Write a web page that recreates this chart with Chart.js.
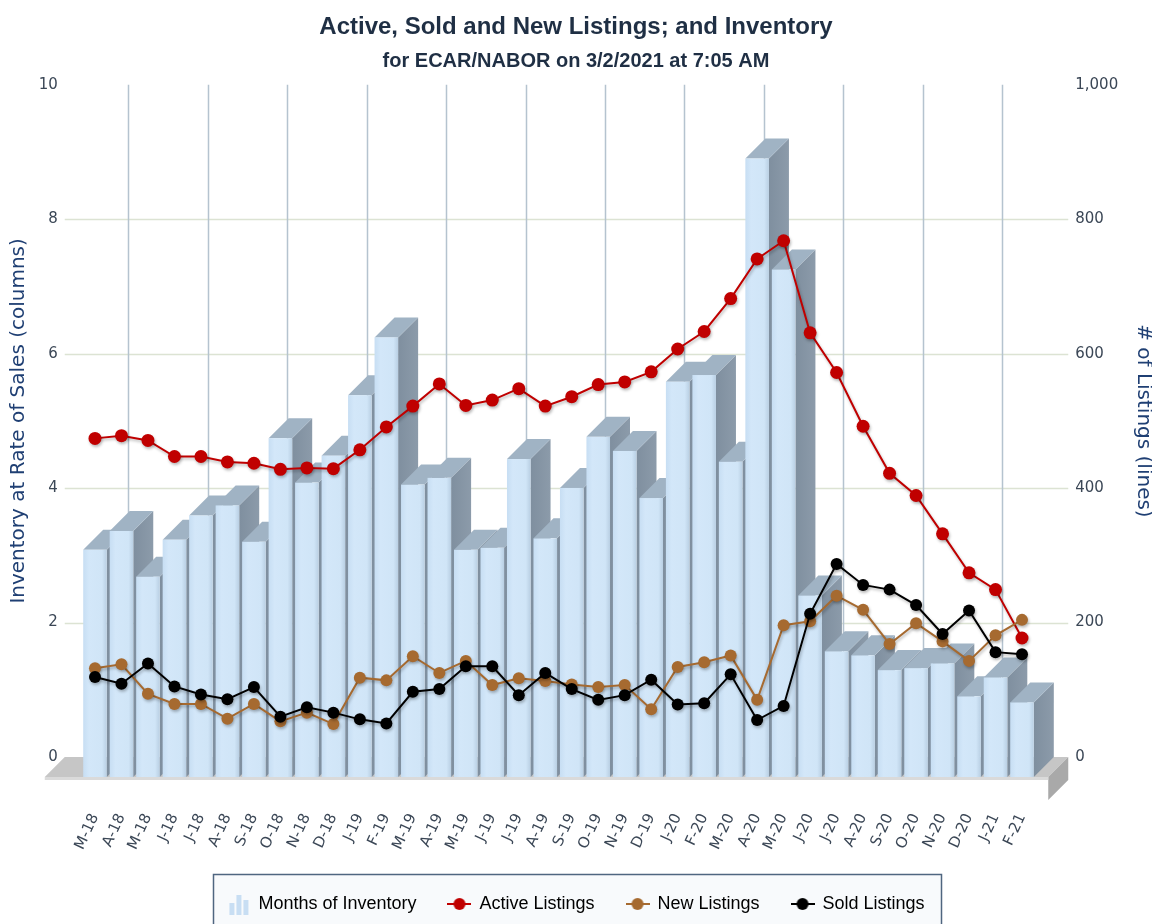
<!DOCTYPE html>
<html>
<head>
<meta charset="utf-8">
<script src="https://cdn.jsdelivr.net/npm/chart.js@4.4.1/dist/chart.umd.min.js"></script>
<style>
  html, body { margin: 0; padding: 0; background: #fff; }
  #wrap { width: 1152px; height: 924px; }
</style>
</head>
<body>
<div id="wrap"><canvas id="chart" width="1152" height="924"></canvas></div>
<script>
// months, Mar 2018 .. Feb 2021
const labels = ['M-18','A-18','M-18','J-18','J-18','A-18','S-18','O-18','N-18','D-18',
  'J-19','F-19','M-19','A-19','M-19','J-19','J-19','A-19','S-19','O-19','N-19','D-19',
  'J-20','F-20','M-20','A-20','M-20','J-20','J-20','A-20','S-20','O-20','N-20','D-20',
  'J-21','F-21'];

// columns, left axis
const monthsOfInventory = [3.38, 3.66, 2.98, 3.53, 3.89, 4.04, 3.50, 5.04, 4.38, 4.78,
  5.68, 6.54, 4.35, 4.45, 3.38, 3.41, 4.73, 3.55, 4.30, 5.06, 4.85, 4.15,
  5.88, 5.98, 4.69, 9.20, 7.55, 2.70, 1.87, 1.81, 1.59, 1.62, 1.69, 1.20,
  1.48, 1.11];

// lines, right axis
const activeListings = [474, 478, 471, 447, 447, 439, 437, 428, 430, 429,
  457, 491, 522, 555, 523, 531, 548, 522, 536, 554, 558, 573,
  607, 633, 682, 741, 768, 631, 572, 492, 422, 389, 332, 274,
  249, 177];
const newListings = [132, 138, 94, 79, 79, 57, 79, 53, 66, 49,
  118, 114, 150, 125, 143, 107, 117, 113, 108, 104, 107, 71,
  134, 141, 151, 85, 196, 202, 240, 219, 168, 199, 172, 143,
  181, 204];
const soldListings = [119, 109, 139, 105, 93, 86, 104, 60, 74, 66,
  56, 50, 97, 101, 135, 135, 92, 125, 101, 85, 92, 115,
  78, 80, 123, 55, 76, 213, 287, 256, 249, 226, 183, 218,
  156, 153];

const leftTicks = [0, 2, 4, 6, 8, 10];
const rightTicks = [0, 200, 400, 600, 800, 1000];

const DEPTH = 20;
const tickFont = { family: 'DejaVu Sans', size: 15 };
const tickColor = '#3b4756';
const axisTitleColor = '#1f3f73';

// little pictures for the legend
function barIcon() {
  const c = document.createElement('canvas');
  c.width = 22; c.height = 22;
  const g = c.getContext('2d');
  g.fillStyle = '#c8def3';
  g.fillRect(2, 10, 5, 12);
  g.fillRect(9, 2, 5, 20);
  g.fillRect(16, 7, 5, 15);
  return c;
}
function lineIcon(color) {
  const c = document.createElement('canvas');
  c.width = 24; c.height = 14;
  const g = c.getContext('2d');
  g.strokeStyle = color; g.lineWidth = 2;
  g.beginPath(); g.moveTo(0, 7); g.lineTo(24, 7); g.stroke();
  g.fillStyle = color;
  g.beginPath(); g.arc(12, 7, 6, 0, Math.PI * 2); g.fill();
  return c;
}

function poly(ctx, pts, fill) {
  ctx.beginPath();
  ctx.moveTo(pts[0][0], pts[0][1]);
  for (let i = 1; i < pts.length; i++) ctx.lineTo(pts[i][0], pts[i][1]);
  ctx.closePath();
  ctx.fillStyle = fill;
  ctx.fill();
}

// floor, back wall grid and the 3d columns
const threeD = {
  id: 'threeD',
  beforeDatasetsDraw(chart) {
    const { ctx, chartArea: a, scales } = chart;
    const x = scales.x, y = scales.y;
    const step = x.getPixelForValue(1) - x.getPixelForValue(0);
    ctx.save();

    // horizontal grid on back wall
    ctx.strokeStyle = '#dce3d3';
    ctx.lineWidth = 1.5;
    leftTicks.slice(1, -1).forEach(v => {
      const py = Math.round(y.getPixelForValue(v)) + 0.5;
      ctx.beginPath(); ctx.moveTo(a.left - 17, py); ctx.lineTo(a.right + 33, py); ctx.stroke();
    });
    // vertical grid, every third month
    ctx.strokeStyle = '#b5c3cf';
    for (let k = 1; k < labels.length; k += 3) {
      const px = Math.round(a.left + DEPTH + k * step) + 0.5;
      ctx.beginPath(); ctx.moveTo(px, a.top); ctx.lineTo(px, a.bottom); ctx.stroke();
    }

    // floor slab
    const fl = a.left - 37, fr = a.right + 13, b = a.bottom;
    poly(ctx, [[fl, b + DEPTH], [fr, b + DEPTH], [fr + DEPTH, b], [fl + DEPTH, b]], '#c6c6c6');
    poly(ctx, [[fr, b + DEPTH], [fr + DEPTH, b], [fr + DEPTH, b + 23], [fr, b + DEPTH + 23]], '#a9a9a9');
    ctx.fillStyle = '#dadada';
    ctx.fillRect(fl, b + DEPTH, fr - fl, 3);

    // columns, left to right so the next one hides the side face
    const meta = chart.getDatasetMeta(0);
    meta.data.forEach(bar => {
      const p = bar.getProps(['x', 'y', 'base', 'width'], true);
      const l = p.x - p.width / 2, r = p.x + p.width / 2;
      const top = p.y, base = p.base;
      // side
      const sg = ctx.createLinearGradient(r, 0, r + DEPTH, 0);
      sg.addColorStop(0, '#7f8f9f'); sg.addColorStop(1, '#8c9baa');
      poly(ctx, [[r, top + DEPTH], [r + DEPTH, top], [r + DEPTH, base], [r, base + DEPTH]], sg);
      // top
      poly(ctx, [[l, top + DEPTH], [r, top + DEPTH], [r + DEPTH, top], [l + DEPTH, top]], '#a0b3c4');
      // front
      const fg = ctx.createLinearGradient(l, 0, r, 0);
      fg.addColorStop(0, '#c7def3'); fg.addColorStop(0.25, '#d3e7f9');
      fg.addColorStop(0.8, '#d0e5f7'); fg.addColorStop(1, '#b9cfe3');
      ctx.fillStyle = fg;
      ctx.fillRect(l, top + DEPTH, p.width, base - top);
    });
    ctx.restore();
  }
};

// soft shadow under the lines
const lineShadow = {
  id: 'lineShadow',
  beforeDatasetDraw(chart, args) {
    if (args.index === 0) return;
    const ctx = chart.ctx;
    ctx.save();
    ctx.shadowColor = 'rgba(0,0,0,0.28)';
    ctx.shadowBlur = 3;
    ctx.shadowOffsetX = 1;
    ctx.shadowOffsetY = 2;
  },
  afterDatasetDraw(chart, args) {
    if (args.index === 0) return;
    chart.ctx.restore();
  }
};

// framed legend
const legendFrame = {
  id: 'legendFrame',
  beforeDraw(chart) {
    const lg = chart.legend;
    if (!lg || !lg.lineWidths) return;
    const pad = lg.options.labels.padding;
    const rowW = lg.lineWidths[0];
    const start = (lg.left + pad + lg.right - rowW) / 2;
    const ctx = chart.ctx;
    ctx.save();
    ctx.fillStyle = '#f8fafc';
    ctx.strokeStyle = '#4f6680';
    ctx.lineWidth = 1.5;
    const bx = Math.round(start - 14) + 0.5, by = Math.round(lg.bottom - 49) + 0.5;
    const bw = Math.round(rowW - pad + 31);
    ctx.fillRect(bx, by, bw, 80);
    ctx.strokeRect(bx, by, bw, 80);
    ctx.restore();
  }
};

const icons = [barIcon(), lineIcon('#c00000'), lineIcon('#a66a30'), lineIcon('#000000')];

new Chart(document.getElementById('chart'), {
  type: 'bar',
  data: {
    labels: labels,
    datasets: [
      {
        label: 'Months of Inventory',
        data: monthsOfInventory,
        yAxisID: 'y',
        backgroundColor: 'rgba(0,0,0,0)',
        barPercentage: 0.89,
        categoryPercentage: 1,
        order: 4
      },
      {
        type: 'line',
        label: 'Active Listings',
        data: activeListings,
        yAxisID: 'y1',
        borderColor: '#c00000',
        backgroundColor: '#c00000',
        borderWidth: 2,
        pointRadius: 6.5,
        pointBorderWidth: 0,
        order: 3
      },
      {
        type: 'line',
        label: 'New Listings',
        data: newListings,
        yAxisID: 'y1',
        borderColor: '#a66a30',
        backgroundColor: '#a66a30',
        borderWidth: 2,
        pointRadius: 6,
        pointBorderWidth: 0,
        order: 2
      },
      {
        type: 'line',
        label: 'Sold Listings',
        data: soldListings,
        yAxisID: 'y1',
        borderColor: '#000000',
        backgroundColor: '#000000',
        borderWidth: 2,
        pointRadius: 6,
        pointBorderWidth: 0,
        order: 1
      }
    ]
  },
  options: {
    responsive: false,
    animation: false,
    layout: { padding: { left: 0, right: 0, top: 0, bottom: 1 } },
    plugins: {
      title: {
        display: true,
        text: 'Active, Sold and New Listings; and Inventory',
        color: '#1f2f44',
        font: { family: 'Liberation Sans', size: 24, weight: 'bold' },
        padding: { top: 13, bottom: 0 }
      },
      subtitle: {
        display: true,
        text: 'for ECAR/NABOR on 3/2/2021 at 7:05 AM',
        color: '#1f2f44',
        font: { family: 'Liberation Sans', size: 20, weight: 'bold' },
        padding: { top: 8, bottom: 11 }
      },
      legend: {
        position: 'bottom',
        labels: {
          usePointStyle: true,
          pointStyleWidth: 22,
          padding: 32,
          color: '#2e4062',
          font: { family: 'Liberation Sans', size: 18 },
          generateLabels: chart => chart.data.datasets.map((ds, i) => ({
            text: ds.label,
            pointStyle: icons[i],
            fillStyle: 'rgba(0,0,0,0)',
            strokeStyle: 'rgba(0,0,0,0)',
            lineWidth: 0,
            hidden: !chart.isDatasetVisible(i),
            datasetIndex: i
          }))
        }
      },
      tooltip: { enabled: false }
    },
    scales: {
      x: {
        offset: true,
        grid: { display: false },
        border: { display: false },
        ticks: {
          autoSkip: false,
          minRotation: 65,
          maxRotation: 65,
          padding: 46,
          color: tickColor,
          font: tickFont
        },
        afterFit: s => { s.height = 106; }
      },
      y: {
        position: 'left',
        min: 0,
        max: 10,
        grid: { display: false },
        border: { display: false },
        afterBuildTicks: s => { s.ticks = leftTicks.map(v => ({ value: v })); },
        ticks: { padding: 16, color: tickColor, font: tickFont },
        title: {
          display: true,
          text: 'Inventory at Rate of Sales (columns)',
          color: axisTitleColor,
          font: { family: 'DejaVu Sans', size: 20 },
          padding: { top: 7, bottom: 0 }
        },
        afterFit: s => { s.width = 81.75; }
      },
      y1: {
        position: 'right',
        min: 0,
        max: 1000,
        grid: { display: false },
        border: { display: false },
        afterBuildTicks: s => { s.ticks = rightTicks.map(v => ({ value: v })); },
        ticks: { padding: 32, color: tickColor, font: tickFont },
        title: {
          display: true,
          text: '# of Listings (lines)',
          color: axisTitleColor,
          font: { family: 'DejaVu Sans', size: 20 },
          padding: { top: -3, bottom: 0 }
        },
        afterFit: s => { s.width = 116.75; }
      }
    }
  },
  plugins: [threeD, lineShadow, legendFrame]
});
</script>
</body>
</html>
